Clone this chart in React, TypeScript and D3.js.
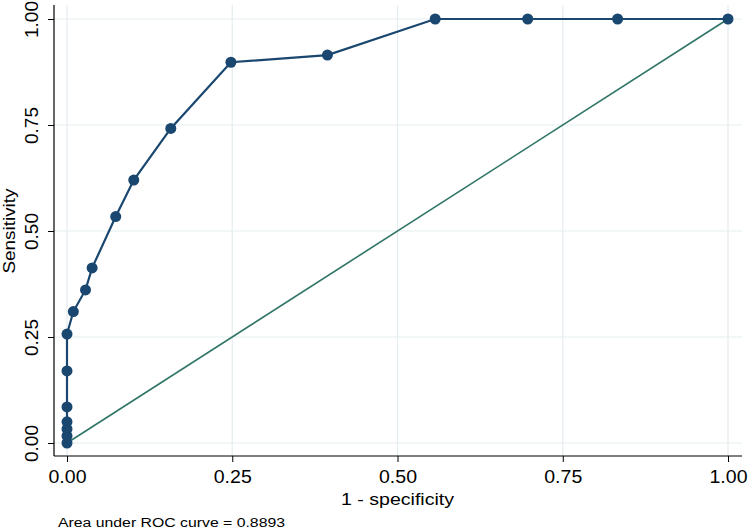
import React from 'react';
import * as d3 from 'd3';

// ROC points: 1 - specificity, sensitivity
const fpr = [0, 0, 0, 0, 0, 0, 0, 0.0096, 0.028, 0.038, 0.0737, 0.101,
  0.157, 0.248, 0.394, 0.557, 0.697, 0.833, 1];
const tpr = [0, 0.0165, 0.033, 0.05, 0.085, 0.17, 0.257, 0.31, 0.361, 0.413,
  0.534, 0.62, 0.742, 0.898, 0.915, 1, 1, 1, 1];
const tickValues = [0, 0.25, 0.5, 0.75, 1];
const xTitle = '1 - specificity';
const yTitle = 'Sensitivity';
const note = 'Area under ROC curve = 0.8893';

const navy = '#1a476f';
const green = '#2f7566';
const grid = '#e3edf0';
const font = '"Liberation Sans", Arial, Helvetica, sans-serif';

export default class App extends React.Component {
  svgRef = React.createRef<SVGSVGElement>();

  componentDidMount(): void {
    this.drawRoc();
  }

  render() {
    return (
      <div>
        <style>{'body{margin:0;}'}</style>
        <svg ref={this.svgRef} width={748} height={531}
          style={{display: 'block', background: '#fff'}} />
      </div>
    );
  }

  drawRoc() {
    const svg = d3.select(this.svgRef.current);
    svg.selectAll('*').remove();

    // plot region (axes stick out a little past the data range, Stata style)
    const left = 54;
    const right = 742;
    const top = 5;
    const bottom = 456;

    const x = d3.scaleLinear().domain([0, 1]).range([67, 728]);
    const y = d3.scaleLinear().domain([0, 1]).range([443, 19]);

    const data = fpr.map((d, i) => ({fx: d, ty: tpr[i]}));

    // grid lines
    const g = svg.append('g');
    g.selectAll('.vgrid')
        .data(tickValues)
        .join('line')
        .attr('x1', (d) => x(d)).attr('x2', (d) => x(d))
        .attr('y1', top).attr('y2', bottom)
        .attr('stroke', grid).attr('stroke-width', 1.2);
    g.selectAll('.hgrid')
        .data(tickValues)
        .join('line')
        .attr('y1', (d) => y(d)).attr('y2', (d) => y(d))
        .attr('x1', left).attr('x2', right)
        .attr('stroke', grid).attr('stroke-width', 1.2);

    // reference diagonal
    svg.append('line')
        .attr('x1', x(0)).attr('y1', y(0))
        .attr('x2', x(1)).attr('y2', y(1))
        .attr('stroke', green).attr('stroke-width', 1.6);

    // roc curve
    const line = d3.line<{fx: number, ty: number}>()
        .x((d) => x(d.fx))
        .y((d) => y(d.ty));
    svg.append('path')
        .datum(data)
        .attr('d', line)
        .attr('fill', 'none')
        .attr('stroke', navy)
        .attr('stroke-width', 2.2);
    svg.append('g')
        .selectAll('circle')
        .data(data)
        .join('circle')
        .attr('cx', (d) => x(d.fx))
        .attr('cy', (d) => y(d.ty))
        .attr('r', 5.5)
        .attr('fill', navy);

    // x axis
    const xAxis = svg.append('g')
        .attr('transform', `translate(0,${bottom})`)
        .call(d3.axisBottom(x).tickValues(tickValues)
            .tickFormat(d3.format('.2f')).tickSize(6).tickPadding(0));
    xAxis.select('.domain').remove();
    xAxis.selectAll('.tick line').attr('stroke', '#000').attr('stroke-width', 1);
    xAxis.selectAll('.tick text')
        .attr('y', 27)
        .attr('dy', null)
        .attr('fill', '#000')
        .style('font-family', font)
        .style('font-size', '17.5px')
        .attr('textLength', 38)
        .attr('lengthAdjust', 'spacingAndGlyphs');
    svg.append('line')
        .attr('x1', left).attr('x2', right)
        .attr('y1', bottom).attr('y2', bottom)
        .attr('stroke', '#000').attr('stroke-width', 1.2);

    // y axis
    const yAxis = svg.append('g')
        .attr('transform', `translate(${left},0)`)
        .call(d3.axisLeft(y).tickValues(tickValues)
            .tickFormat(d3.format('.2f')).tickSize(6).tickPadding(0));
    yAxis.select('.domain').remove();
    yAxis.selectAll('.tick line').attr('stroke', '#000').attr('stroke-width', 1);
    yAxis.selectAll('.tick text')
        .attr('x', null)
        .attr('dy', null)
        .attr('transform', 'translate(-16,0) rotate(-90)')
        .attr('text-anchor', 'middle')
        .attr('fill', '#000')
        .style('font-family', font)
        .style('font-size', '17.5px')
        .attr('textLength', 37)
        .attr('lengthAdjust', 'spacingAndGlyphs');
    svg.append('line')
        .attr('x1', left).attr('x2', left)
        .attr('y1', top).attr('y2', bottom)
        .attr('stroke', '#000').attr('stroke-width', 1.2);

    // titles
    svg.append('text')
        .attr('x', (x(0) + x(1)) / 2)
        .attr('y', 505)
        .attr('text-anchor', 'middle')
        .style('font-family', font)
        .style('font-size', '16.5px')
        .attr('textLength', 113)
        .attr('lengthAdjust', 'spacingAndGlyphs')
        .text(xTitle);
    svg.append('text')
        .attr('transform', `translate(15,${(y(0) + y(1)) / 2}) rotate(-90)`)
        .attr('text-anchor', 'middle')
        .style('font-family', font)
        .style('font-size', '16.5px')
        .attr('textLength', 85)
        .attr('lengthAdjust', 'spacingAndGlyphs')
        .text(yTitle);

    // note
    svg.append('text')
        .attr('x', 58)
        .attr('y', 527)
        .style('font-family', font)
        .style('font-size', '12.5px')
        .attr('textLength', 227)
        .attr('lengthAdjust', 'spacingAndGlyphs')
        .text(note);
  }
}
